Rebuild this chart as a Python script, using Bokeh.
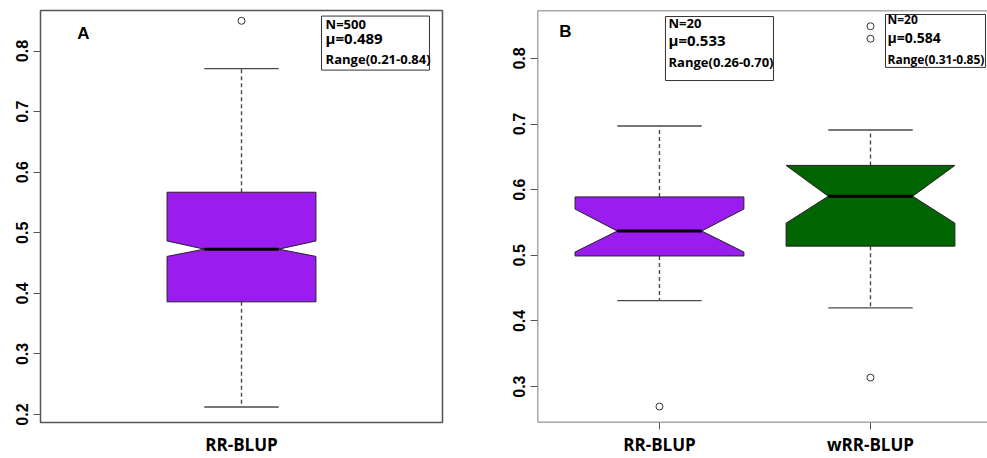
from bokeh.plotting import figure
from bokeh.models import FixedTicker, Span, Range1d
from bokeh.layouts import row
from bokeh.embed import file_html
from bokeh.resources import INLINE
from bokeh.core.properties import value

# ---------------- Panel A data ----------------
cats_a = ["RR-BLUP"]
pos_a = [1]
q1_a = [0.386]
med_a = [0.473]
q3_a = [0.567]
notch_lo_a = [0.461]
notch_hi_a = [0.4865]
whisk_lo_a = [0.2125]
whisk_hi_a = [0.771]
out_x_a = [1]
out_y_a = [0.85]
stats_a = [["N=500", "μ=0.489", "Range(0.21-0.84)"]]
colors_a = ["#9A1CEE"]
yticks_a = [0.2, 0.3, 0.4, 0.5, 0.6, 0.7, 0.8]

# ---------------- Panel B data ----------------
cats_b = ["RR-BLUP", "wRR-BLUP"]
pos_b = [1, 2]
q1_b = [0.499, 0.514]
med_b = [0.537, 0.590]
q3_b = [0.589, 0.637]
notch_lo_b = [0.505, 0.549]
notch_hi_b = [0.5705, 0.637]
whisk_lo_b = [0.431, 0.420]
whisk_hi_b = [0.697, 0.691]
out_x_b = [1, 2, 2, 2]
out_y_b = [0.2696, 0.849, 0.830, 0.3137]
stats_b = [["N=20", "μ=0.533", "Range(0.26-0.70)"],
           ["N=20", "μ=0.584", "Range(0.31-0.85)"]]
colors_b = ["#9A1CEE", "#006400"]
yticks_b = [0.3, 0.4, 0.5, 0.6, 0.7, 0.8]

FRAME = "#555555"
WHISK = "#4a4a4a"
TEXT_FONT = "Open Sans"
TICK_FONT = "Liberation Sans"


def draw_boxes(p, pos, q1, med, q3, nlo, nhi, wlo, whi, half, colors):
    xs, ys = [], []
    for x, a, m, b, nl, nh in zip(pos, q1, med, q3, nlo, nhi):
        xs.append([x - half, x - half, x - half / 2, x - half, x - half,
                   x + half, x + half, x + half / 2, x + half, x + half])
        ys.append([a, nl, m, nh, b, b, nh, m, nl, a])
    p.segment(x0=pos, y0=q3, x1=pos, y1=whi, line_color=WHISK,
              line_dash="4 3", line_width=1.4)
    p.segment(x0=pos, y0=q1, x1=pos, y1=wlo, line_color=WHISK,
              line_dash="4 3", line_width=1.4)
    p.segment(x0=[x - half / 2 for x in pos], y0=whi,
              x1=[x + half / 2 for x in pos], y1=whi,
              line_color=WHISK, line_width=1.4)
    p.segment(x0=[x - half / 2 for x in pos], y0=wlo,
              x1=[x + half / 2 for x in pos], y1=wlo,
              line_color=WHISK, line_width=1.4)
    p.patches(xs=xs, ys=ys, fill_color=colors, line_color="#222222",
              line_width=1)
    p.segment(x0=[x - half / 2 for x in pos], y0=med,
              x1=[x + half / 2 for x in pos], y1=med,
              line_color="black", line_width=3)


def stat_box(p, left, right, top, bottom, tx, tys, texts, sizes):
    p.quad(left=[left], right=[right], top=[top], bottom=[bottom],
           fill_color="white", line_color="#333333", line_width=1)
    for ty, t, s in zip(tys, texts, sizes):
        p.text(x=[tx], y=[ty], text=[t], text_font=value(TEXT_FONT),
               text_font_style="bold", text_font_size=s,
               text_align="left", text_baseline="middle", text_color="black")


def style(p, yticks, xticks, xlabels, tick_out):
    p.grid.visible = False
    p.yaxis.ticker = FixedTicker(ticks=yticks)
    p.yaxis.major_label_orientation = "vertical"
    p.yaxis.major_label_text_font = TICK_FONT
    p.yaxis.major_label_text_font_style = "bold"
    p.yaxis.major_label_text_font_size = "16px"
    p.yaxis.major_label_text_color = "black"
    p.yaxis.major_tick_out = 7
    p.yaxis.major_tick_in = 0
    p.yaxis.minor_tick_line_color = None
    p.yaxis.major_tick_line_color = FRAME
    p.yaxis.axis_line_color = None
    p.yaxis.major_label_standoff = 5
    p.xaxis.ticker = FixedTicker(ticks=xticks)
    p.xaxis.major_label_overrides = {x: l for x, l in zip(xticks, xlabels)}
    p.xaxis.major_label_text_font = TEXT_FONT
    p.xaxis.major_label_text_font_style = "bold"
    p.xaxis.major_label_text_font_size = "17px"
    p.xaxis.major_label_text_color = "black"
    p.xaxis.major_tick_out = tick_out
    p.xaxis.major_tick_in = 0
    p.xaxis.major_tick_line_color = FRAME if tick_out else None
    p.xaxis.minor_tick_line_color = None
    p.xaxis.axis_line_color = None
    p.xaxis.major_label_standoff = 10 - tick_out


# ---------------- Panel A ----------------
pa = figure(width=500, height=458, output_backend="svg", toolbar_location=None,
            x_range=Range1d(0.46, 1.54), y_range=Range1d(0.1868, 0.867),
            min_border_left=40, min_border_right=58, min_border_top=10,
            min_border_bottom=35)
pa.outline_line_color = FRAME
pa.outline_line_width = 1.5
pa.outline_line_alpha = 1.0
style(pa, yticks_a, pos_a, cats_a, 0)
draw_boxes(pa, pos_a, q1_a, med_a, q3_a, notch_lo_a, notch_hi_a,
           whisk_lo_a, whisk_hi_a, 0.2, colors_a)
pa.scatter(x=out_x_a, y=out_y_a, marker="circle", size=7, fill_color=None,
           line_color="#333333", line_width=1)
pa.text(x=[0.5755], y=[0.8297], text=["A"], text_font=value(TICK_FONT),
        text_font_style="bold", text_font_size="17px", text_align="center",
        text_baseline="middle", text_color="black")
stat_box(pa, 1.215, 1.505, 0.8578, 0.7686, 1.226,
         [0.8446, 0.8223, 0.7876], stats_a[0], ["13px", "15px", "13px"])

# ---------------- Panel B ----------------
pb = figure(width=487, height=458, output_backend="svg", toolbar_location=None,
            x_range=Range1d(0.422, 2.5545), y_range=Range1d(0.2453, 0.873),
            min_border_left=37, min_border_right=0, min_border_top=10,
            min_border_bottom=35)
pb.outline_line_color = None
style(pb, yticks_b, pos_b, cats_b, 7)
for loc, dim in [(0.422, "height"), (0.873, "width"), (0.2453, "width")]:
    pb.add_layout(Span(location=loc, dimension=dim, line_color=FRAME,
                       line_width=1.5))
draw_boxes(pb, pos_b, q1_b, med_b, q3_b, notch_lo_b, notch_hi_b,
           whisk_lo_b, whisk_hi_b, 0.4, colors_b)
pb.scatter(x=out_x_b, y=out_y_b, marker="circle", size=7, fill_color=None,
           line_color="#333333", line_width=1)
pb.text(x=[0.5545], y=[0.8403], text=["B"], text_font=value(TICK_FONT),
        text_font_style="bold", text_font_size="17px", text_align="center",
        text_baseline="middle", text_color="black")
stat_box(pb, 1.0284, 1.5403, 0.8638, 0.7663, 1.0427,
         [0.8532, 0.8281, 0.7939], stats_b[0], ["13px", "15px", "13px"])
stat_box(pb, 2.0711, 2.545, 0.8669, 0.7863, 2.0805,
         [0.8596, 0.8319, 0.7985], stats_b[1], ["12px", "14px", "12px"])

layout = row(pa, pb)
open("out.html", "w").write(file_html(layout, INLINE))
